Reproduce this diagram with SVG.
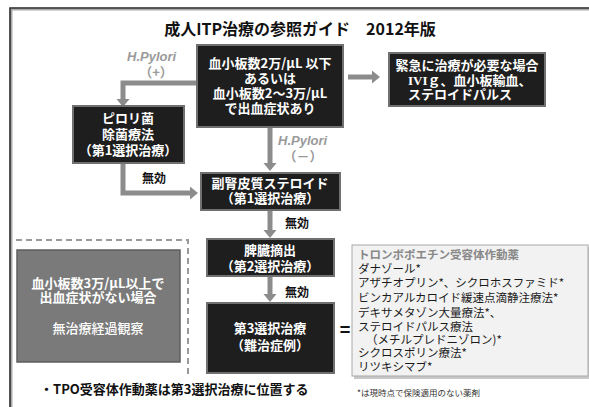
<svg xmlns="http://www.w3.org/2000/svg" width="589" height="407" viewBox="0 0 589 407">
<style>
text{font-family:"Noto Sans CJK JP","Liberation Sans",sans-serif;}
.dark rect{fill:#1e1e1e;stroke:#707070;stroke-width:2;}
.w{fill:#ffffff;font-size:13px;font-weight:bold;text-anchor:middle;}
.wl{fill:#ffffff;font-size:13px;font-weight:bold;text-anchor:start;}
.lbl{fill:#111;font-size:12px;font-weight:bold;}
.hp{fill:#9a9a9a;font-size:13px;font-weight:bold;font-style:italic;font-family:"Liberation Sans","Noto Sans",sans-serif;}
.hp2{fill:#9a9a9a;font-size:13px;font-weight:bold;text-anchor:middle;}
.arr{fill:none;stroke:#8c8c8c;stroke-width:5;}
.drug{fill:#1a1a1a;font-size:11.5px;}
</style>
<defs>
<marker id="ah" markerUnits="userSpaceOnUse" markerWidth="14" markerHeight="14" refX="0" refY="6.5" orient="auto">
<path d="M0,0 L8,6.5 L0,13 z" fill="#8c8c8c"/>
</marker>
</defs>
<rect width="589" height="407" fill="#ffffff"/>
<!-- frame -->
<path d="M11,407 V9 H589" fill="none" stroke="#aaaaaa" stroke-width="3"/>
<path d="M10,407 V8 H589" fill="none" stroke="#333333" stroke-width="1.6"/>
<text x="300" y="35" text-anchor="middle" font-size="16" font-weight="bold" fill="#111">成人ITP治療の参照ガイド　2012年版</text>

<g id="connectors">
<path class="arr" d="M197,83 H123 V99" marker-end="url(#ah)"/>
<path class="arr" d="M123,163 V193 H190" marker-end="url(#ah)"/>
<path class="arr" d="M270,127 V163" marker-end="url(#ah)"/>
<path class="arr" d="M270,210 V230" marker-end="url(#ah)"/>
<path class="arr" d="M270,276 V294" marker-end="url(#ah)"/>
<path class="arr" d="M348,77 H372" stroke-width="6" marker-end="url(#ah)"/>
<text class="hp" x="127" y="61">H.Pylori</text>
<text class="hp2" x="156" y="77">（+）</text>
<text class="hp" x="278" y="145">H.Pylori</text>
<text class="hp2" x="303" y="161">（－）</text>
<text class="lbl" x="142" y="183">無効</text>
<text class="lbl" x="285" y="228">無効</text>
<text class="lbl" x="285" y="297">無効</text>
<text x="345" y="336" text-anchor="middle" font-size="18" font-weight="bold" fill="#111">=</text>
</g>

<g id="main" class="dark">
<rect x="197" y="45" width="146" height="82"/>
<text class="w" x="270" y="68">血小板数2万/μL 以下</text>
<text class="w" x="270" y="83">あるいは</text>
<text class="w" x="270" y="98">血小板数2～3万/μL</text>
<text class="w" x="270" y="113">で出血症状あり</text>
</g>

<g id="emergency" class="dark">
<rect x="389" y="53" width="156" height="53"/>
<text class="w" x="467" y="70">緊急に治療が必要な場合</text>
<text class="wl" x="408" y="85"><tspan font-family="Liberation Serif,serif">IVI</tspan>ｇ、血小板輸血、</text>
<text class="wl" x="408" y="99">ステロイドパルス</text>
</g>

<g id="pylori" class="dark">
<rect x="73" y="106" width="111" height="57"/>
<text class="w" x="128" y="123">ピロリ菌</text>
<text class="w" x="128" y="139">除菌療法</text>
<text class="w" x="128" y="155">（第1選択治療）</text>
</g>

<g id="steroid" class="dark">
<rect x="201" y="173" width="139" height="37"/>
<text class="w" x="270" y="188">副腎皮質ステロイド</text>
<text class="w" x="270" y="203">（第1選択治療）</text>
</g>

<g id="spleen" class="dark">
<rect x="207" y="239" width="127" height="37"/>
<text class="w" x="270" y="255">脾臓摘出</text>
<text class="w" x="270" y="271">（第2選択治療）</text>
</g>

<g id="third" class="dark">
<rect x="207" y="303" width="127" height="70"/>
<text class="w" x="270" y="333">第3選択治療</text>
<text class="w" x="270" y="350">（難治症例）</text>
</g>

<g id="observe">
<path d="M16,240 H188 V375" fill="none" stroke="#9a9a9a" stroke-width="2" stroke-dasharray="6,4"/>
<rect x="17" y="250" width="163" height="112" fill="#7a7a7a" stroke="#5e5e5e" stroke-width="1.5"/>
<text class="w" x="98" y="288">血小板数3万/μL以上で</text>
<text class="w" x="98" y="302">出血症状がない場合</text>
<text class="w" x="98" y="333" style="font-weight:500">無治療経過観察</text>
</g>

<g id="drugs">
<rect x="354" y="247" width="235" height="132" fill="#c8c8c8"/>
<rect x="352" y="245" width="236" height="131" fill="#f2f2f2" stroke="#a8a8a8" stroke-width="1"/>
<text x="358" y="259" font-size="11.5" font-weight="bold" fill="#888">トロンボポエチン受容体作動薬</text>
<text class="drug" x="358" y="273">ダナゾール*</text>
<text class="drug" x="358" y="287">アザチオプリン*、シクロホスファミド*</text>
<text class="drug" x="358" y="302">ビンカアルカロイド緩速点滴静注療法*</text>
<text class="drug" x="358" y="317">デキサメタゾン大量療法*、</text>
<text class="drug" x="358" y="331">ステロイドパルス療法</text>
<text class="drug" x="366" y="344">（メチルプレドニゾロン)*</text>
<text class="drug" x="358" y="357">シクロスポリン療法*</text>
<text class="drug" x="358" y="371">リツキシマブ*</text>
<text x="357" y="396" font-size="8.5" fill="#333">*は現時点で保険適用のない薬剤</text>
</g>

<text x="40" y="394" font-size="13" font-weight="bold" fill="#111">・TPO受容体作動薬は第3選択治療に位置する</text>
</svg>
